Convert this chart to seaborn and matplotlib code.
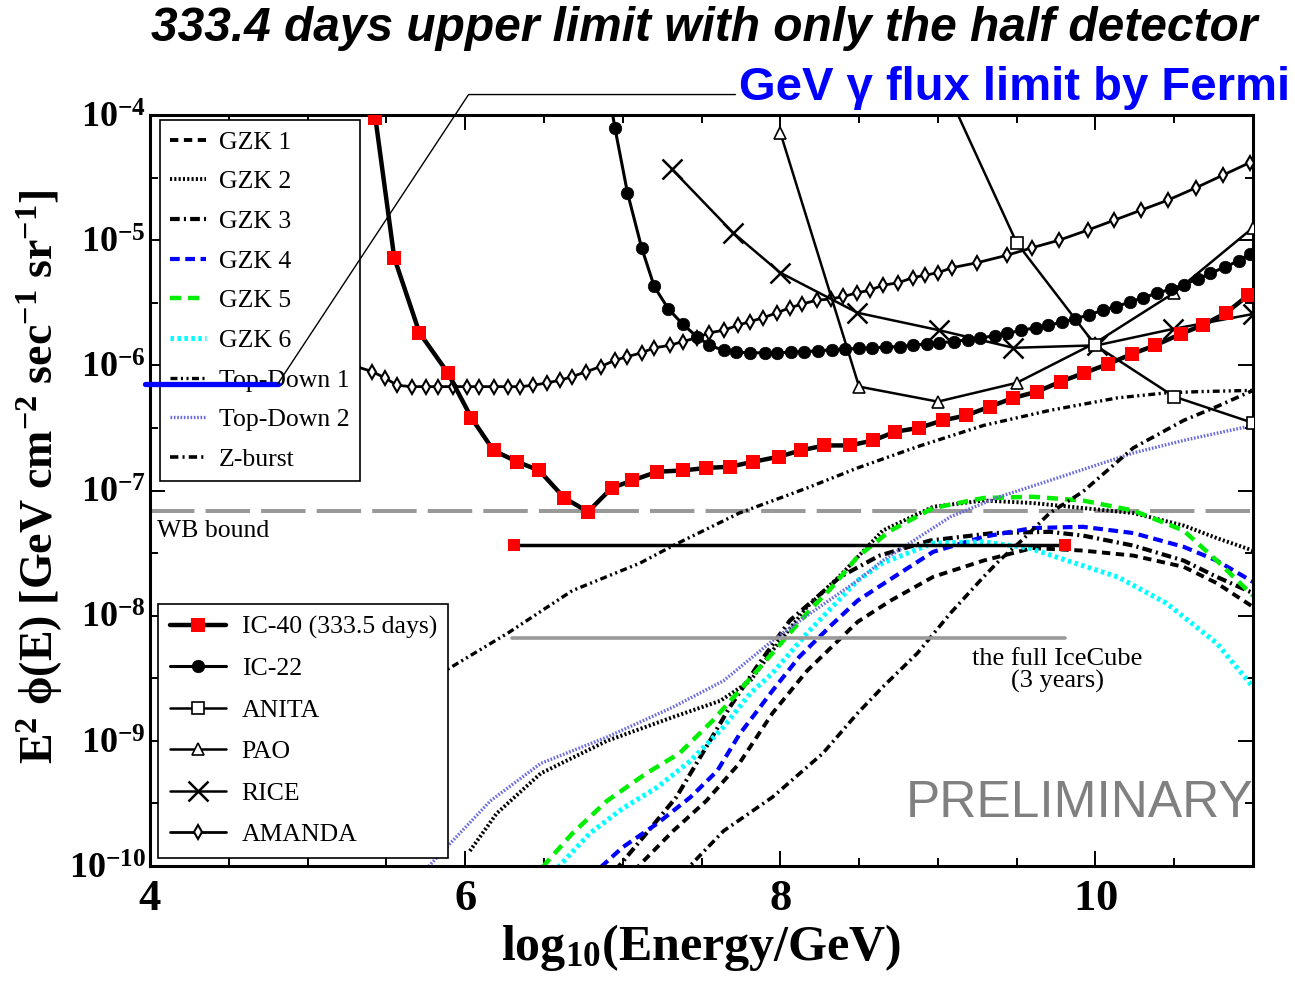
import numpy as np
import pandas as pd
import matplotlib
matplotlib.use("Agg")
import matplotlib.pyplot as plt
import seaborn as sns
from matplotlib.ticker import FixedLocator, MultipleLocator, FuncFormatter, NullFormatter

# ---------------------------------------------------------------------------
# Data: x = log10(E/GeV), values stored as log10 of E^2 * flux
# ---------------------------------------------------------------------------
# Experimental upper limits
ic40_x = [5.40, 5.43, 5.55, 5.71, 5.89, 6.04, 6.18, 6.33, 6.47, 6.63,
          6.78, 6.93, 7.06, 7.22, 7.38, 7.53, 7.68, 7.83, 7.99, 8.13,
          8.28, 8.44, 8.59, 8.73, 8.88, 9.03, 9.18, 9.33, 9.48, 9.63,
          9.78, 9.93, 10.08, 10.23, 10.38, 10.54, 10.68, 10.83, 10.97]
ic40_logy = [-3.60, -4.02, -5.14, -5.74, -6.06, -6.42, -6.68, -6.77, -6.84, -7.06,
             -7.17, -6.98, -6.92, -6.85, -6.84, -6.82, -6.81, -6.77, -6.73, -6.68,
             -6.64, -6.64, -6.60, -6.53, -6.50, -6.44, -6.40, -6.33, -6.26, -6.21,
             -6.13, -6.06, -5.99, -5.91, -5.84, -5.75, -5.68, -5.58, -5.44]

ic40_full_x = [6.31, 9.81]          # IC-40 integrated limit (333.5 days)
ic40_full_logy = [-7.437, -7.437]
icecube3y_x = [6.30, 9.81]          # full IceCube, 3 years sensitivity
icecube3y_logy = [-8.18, -8.18]
wb_logy = -7.166                    # Waxman-Bahcall bound

ic22_x = [6.93, 6.95, 7.03, 7.12, 7.20, 7.29, 7.38, 7.47, 7.55, 7.64,
          7.72, 7.81, 7.90, 7.98, 8.07, 8.15, 8.24, 8.33, 8.41, 8.50,
          8.58, 8.67, 8.76, 8.84, 8.93, 9.01, 9.10, 9.19, 9.27, 9.36,
          9.44, 9.53, 9.62, 9.70, 9.79, 9.87, 9.96, 10.05, 10.13, 10.22,
          10.30, 10.39, 10.48, 10.56, 10.65, 10.73, 10.82, 10.91, 10.98]
ic22_logy = [-3.95, -4.10, -4.62, -5.06, -5.37, -5.55, -5.67, -5.77, -5.84, -5.88,
             -5.895, -5.90, -5.90, -5.90, -5.895, -5.89, -5.885, -5.875, -5.87, -5.865,
             -5.86, -5.855, -5.85, -5.84, -5.83, -5.82, -5.81, -5.795, -5.78, -5.765,
             -5.745, -5.72, -5.70, -5.68, -5.655, -5.63, -5.595, -5.56, -5.53, -5.495,
             -5.46, -5.425, -5.39, -5.355, -5.31, -5.265, -5.215, -5.165, -5.11]

anita_x = [9.0, 9.5, 10.0, 10.5, 11.0]
anita_logy = [-3.65, -5.02, -5.84, -6.25, -6.46]

pao_x = [8.0, 8.5, 9.0, 9.5, 10.0, 10.5, 11.0]
pao_logy = [-4.14, -6.17, -6.29, -6.14, -5.82, -5.42, -4.90]

rice_x = [7.31, 7.70, 8.00, 8.49, 9.01, 9.48, 10.01, 10.49, 11.0]
rice_logy = [-4.43, -4.94, -5.26, -5.58, -5.72, -5.86, -5.84, -5.71, -5.59]

amanda_x = [5.31, 5.41, 5.49, 5.57, 5.66, 5.75, 5.83, 5.92, 6.01, 6.09,
            6.18, 6.27, 6.35, 6.43, 6.52, 6.60, 6.68, 6.77, 6.86, 6.95,
            7.03, 7.12, 7.20, 7.30, 7.38, 7.47, 7.55, 7.64, 7.73, 7.81,
            7.89, 7.98, 8.06, 8.14, 8.23, 8.32, 8.40, 8.49, 8.57, 8.65,
            8.75, 8.84, 8.92, 9.00, 9.09, 9.25, 9.44, 9.60, 9.77, 9.95,
            10.12, 10.29, 10.46, 10.64, 10.81, 10.98]
amanda_logy = [-6.01, -6.05, -6.10, -6.16, -6.17, -6.17, -6.17, -6.17, -6.17, -6.17,
               -6.17, -6.17, -6.17, -6.16, -6.14, -6.12, -6.09, -6.05, -6.01, -5.96,
               -5.93, -5.90, -5.86, -5.84, -5.81, -5.78, -5.74, -5.72, -5.68, -5.65,
               -5.62, -5.58, -5.54, -5.51, -5.48, -5.47, -5.45, -5.42, -5.40, -5.36,
               -5.34, -5.30, -5.28, -5.26, -5.22, -5.18, -5.12, -5.06, -5.00, -4.92,
               -4.84, -4.76, -4.68, -4.58, -4.48, -4.38]

fermi_x = [3.97, 4.81]              # GeV gamma-ray bound from Fermi
fermi_logy = [-6.15, -6.15]

# Model predictions
gzk1_x = [7.07, 7.32, 7.53, 7.74, 7.95, 8.17, 8.49, 8.70, 8.97, 9.29, 9.60, 9.92, 10.24, 10.56, 10.77, 11.0]
gzk1_logy = [-10.04, -9.72, -9.48, -9.18, -8.78, -8.44, -8.05, -7.88, -7.69, -7.56, -7.46, -7.48, -7.52, -7.61, -7.74, -7.93]

gzk2_x = [6.03, 6.20, 6.48, 6.90, 7.32, 7.62, 7.81, 7.95, 8.17, 8.38, 8.65, 8.97, 9.29, 9.60, 9.92, 10.24, 10.56, 10.77, 11.0]
gzk2_logy = [-9.88, -9.58, -9.26, -9.00, -8.81, -8.68, -8.52, -8.28, -7.93, -7.68, -7.32, -7.13, -7.08, -7.10, -7.14, -7.18, -7.28, -7.38, -7.48]

gzk3_x = [6.95, 7.11, 7.34, 7.53, 7.68, 7.85, 8.06, 8.38, 8.63, 8.95, 9.35, 9.71, 9.92, 10.24, 10.56, 10.77, 11.0]
gzk3_logy = [-10.04, -9.80, -9.45, -9.05, -8.73, -8.41, -8.04, -7.69, -7.52, -7.40, -7.34, -7.33, -7.36, -7.44, -7.56, -7.69, -7.82]

gzk4_x = [6.86, 7.00, 7.22, 7.43, 7.60, 7.74, 7.95, 8.12, 8.32, 8.49, 8.71, 8.97, 9.29, 9.60, 9.92, 10.24, 10.56, 10.77, 11.0]
gzk4_logy = [-10.01, -9.85, -9.66, -9.45, -9.24, -8.95, -8.60, -8.33, -8.08, -7.88, -7.70, -7.49, -7.37, -7.30, -7.29, -7.34, -7.45, -7.56, -7.73]

gzk5_x = [6.49, 6.68, 6.90, 7.15, 7.36, 7.57, 7.74, 7.95, 8.17, 8.33, 8.49, 8.70, 8.97, 9.29, 9.60, 9.92, 10.24, 10.56, 10.77, 11.0]
gzk5_logy = [-10.01, -9.74, -9.48, -9.26, -9.10, -8.84, -8.60, -8.30, -7.98, -7.77, -7.53, -7.32, -7.14, -7.06, -7.05, -7.08, -7.16, -7.32, -7.56, -7.84]

gzk6_x = [6.59, 6.79, 7.00, 7.22, 7.43, 7.64, 7.81, 7.95, 8.17, 8.49, 8.65, 8.97, 9.29, 9.58, 9.82, 10.14, 10.45, 10.77, 11.0]
gzk6_logy = [-10.01, -9.74, -9.54, -9.37, -9.16, -8.89, -8.62, -8.46, -8.14, -7.72, -7.58, -7.42, -7.41, -7.46, -7.56, -7.69, -7.90, -8.22, -8.57]

td1_x = [5.80, 5.90, 6.27, 6.68, 7.11, 7.32, 7.74, 8.17, 8.49, 8.87, 9.29, 9.71, 10.14, 10.45, 10.66, 11.0]
td1_logy = [-8.49, -8.42, -8.14, -7.80, -7.58, -7.44, -7.18, -6.98, -6.82, -6.65, -6.48, -6.36, -6.26, -6.22, -6.21, -6.20]

td2_x = [5.71, 6.16, 6.48, 6.90, 7.32, 7.64, 7.95, 8.17, 8.49, 8.65, 9.08, 9.39, 9.71, 10.24, 10.56, 11.0]
td2_logy = [-10.08, -9.48, -9.18, -8.97, -8.73, -8.52, -8.20, -8.00, -7.72, -7.56, -7.21, -7.05, -6.92, -6.70, -6.60, -6.48]

zb_x = [7.38, 7.64, 7.95, 8.27, 8.49, 8.65, 8.87, 9.08, 9.29, 9.39, 9.54, 9.71, 9.92, 10.24, 10.56, 10.77, 11.0]
zb_logy = [-10.06, -9.72, -9.45, -9.10, -8.78, -8.57, -8.30, -7.98, -7.69, -7.56, -7.39, -7.18, -7.01, -6.66, -6.44, -6.33, -6.20]

x_ticks = [4, 6, 8, 10]
y_decades = list(range(-10, -3))

# ---------------------------------------------------------------------------
# Styling
# ---------------------------------------------------------------------------
sns.set_theme(style="ticks")
plt.rcParams["font.family"] = ["Liberation Serif", "DejaVu Serif"]
plt.rcParams["mathtext.fontset"] = "custom"
plt.rcParams["mathtext.rm"] = "Liberation Serif"
plt.rcParams["mathtext.it"] = "Liberation Serif:italic"
plt.rcParams["mathtext.bf"] = "Liberation Serif:bold"
plt.rcParams["lines.scale_dashes"] = False
plt.rcParams["legend.numpoints"] = 1
for key in ("text.color", "axes.labelcolor", "xtick.color", "ytick.color", "axes.edgecolor"):
    plt.rcParams[key] = "black"

fig = plt.figure(figsize=(12.95, 9.86), dpi=100)
ax = fig.add_axes([150 / 1295, 1 - 866 / 986, 1103 / 1295, 751 / 986])
ax.set_yscale("log")
ax.set_xlim(4, 11)
ax.set_ylim(1e-10, 1e-4)


def draw(xs, logys, **kw):
    df = pd.DataFrame({"x": xs, "y": 10.0 ** np.asarray(logys)})
    sns.lineplot(data=df, x="x", y="y", ax=ax, errorbar=None, sort=False, legend=False, **kw)
    return ax.lines[-1]


# Model curves
h_gzk1 = draw(gzk1_x, gzk1_logy, color="black", lw=2.8, linestyle=(0, (6, 4)), label="GZK 1", zorder=2)
h_gzk2 = draw(gzk2_x, gzk2_logy, color="black", lw=2.8, linestyle=(0, (1.5, 1.6)), label="GZK 2", zorder=2)
h_gzk3 = draw(gzk3_x, gzk3_logy, color="black", lw=3.0, linestyle=(0, (7, 3, 1.5, 3)), label="GZK 3", zorder=2)
h_gzk4 = draw(gzk4_x, gzk4_logy, color="#0000ff", lw=3.0, linestyle=(0, (7, 4)), label="GZK 4", zorder=2)
h_gzk5 = draw(gzk5_x, gzk5_logy, color="#00ee00", lw=3.2, linestyle=(0, (8, 5)), label="GZK 5", zorder=2)
h_gzk6 = draw(gzk6_x, gzk6_logy, color="#00ffff", lw=3.6, linestyle=(0, (2.5, 2.5)), label="GZK 6", zorder=2)
h_td1 = draw(td1_x, td1_logy, color="black", lw=2.4, linestyle=(0, (5, 2.5, 1.5, 2.5, 1.5, 2.5)), label="Top-Down 1", zorder=2)
h_td2 = draw(td2_x, td2_logy, color="#6b6bdf", lw=2.4, linestyle=(0, (1.2, 1.2)), label="Top-Down 2", zorder=2)
h_zb = draw(zb_x, zb_logy, color="black", lw=2.6, linestyle=(0, (6, 3, 1.5, 3)), label="Z-burst", zorder=2)

# Reference levels
ax.axhline(10.0 ** wb_logy, color="#999999", lw=2.9, linestyle=(0, (32, 8)), zorder=1.5)
draw(icecube3y_x, icecube3y_logy, color="#999999", lw=2.6, zorder=2.5)

# Limits
h_amanda = draw(amanda_x, amanda_logy, color="black", lw=2.0, marker="d", markersize=7.5,
                markerfacecolor="white", markeredgecolor="black", markeredgewidth=1.5,
                label="AMANDA", zorder=3)
h_rice = draw(rice_x, rice_logy, color="black", lw=1.8, marker="x", markersize=14,
              markeredgecolor="black", markeredgewidth=1.8, label="RICE", zorder=3)
h_pao = draw(pao_x, pao_logy, color="black", lw=1.8, marker="^", markersize=9,
             markerfacecolor="white", markeredgecolor="black", markeredgewidth=1.2,
             label="PAO", zorder=3)
h_anita = draw(anita_x, anita_logy, color="black", lw=1.8, marker="s", markersize=8.5,
               markerfacecolor="white", markeredgecolor="black", markeredgewidth=1.2,
               label="ANITA", zorder=3)
h_ic22 = draw(ic22_x, ic22_logy, color="black", lw=2.2, marker="o", markersize=9,
              markerfacecolor="black", markeredgecolor="black", markeredgewidth=0.5,
              label="IC-22", zorder=3.2)
draw(ic40_full_x, ic40_full_logy, color="black", lw=2.5, marker="s", markersize=9,
     markerfacecolor="#ff0000", markeredgecolor="#ff0000", markeredgewidth=0, zorder=3.4)
h_ic40 = draw(ic40_x, ic40_logy, color="black", lw=3.2, marker="s", markersize=9.5,
              markerfacecolor="#ff0000", markeredgecolor="#ff0000", markeredgewidth=0,
              label="IC-40 (333.5 days)", zorder=3.5)

# ---------------------------------------------------------------------------
# Axes, ticks and labels
# ---------------------------------------------------------------------------
for s in ax.spines.values():
    s.set_visible(True)
    s.set_linewidth(2.2)
    s.set_color("black")

ax.xaxis.set_major_locator(FixedLocator(x_ticks))
ax.xaxis.set_minor_locator(MultipleLocator(0.5))
ax.xaxis.set_major_formatter(FuncFormatter(lambda v, p: r"$\mathbf{%d}$" % round(v)))
ax.yaxis.set_major_locator(FixedLocator([10.0 ** k for k in y_decades]))
ax.yaxis.set_minor_locator(FixedLocator([10.0 ** (k + 0.5) for k in y_decades[:-1]]))
ax.yaxis.set_major_formatter(FuncFormatter(lambda v, p: r"$\mathbf{10^{%d}}$" % round(np.log10(v))))
ax.yaxis.set_minor_formatter(NullFormatter())

ax.tick_params(which="both", direction="in", top=True, right=True, color="black", width=1.4)
ax.tick_params(which="major", length=11)
ax.tick_params(which="minor", length=6)
ax.tick_params(axis="x", which="major", labelsize=32, pad=9, labelcolor="black")
ax.tick_params(axis="y", which="major", labelsize=26, pad=3, labelcolor="black")

ax.set_xlabel(r"$\mathbf{log_{10}(Energy/GeV)}$", fontsize=36, color="black")
ax.xaxis.set_label_coords(0.5, -0.075)
ax.set_ylabel(r"$\mathbf{E^{2}\ \phi(E)\ [GeV\ cm^{-2}\ sec^{-1}\ sr^{-1}]}$", fontsize=33, color="black")
ax.yaxis.set_label_coords(-0.077, 0.518)

# Annotations inside the frame
ax.text(4.045, 10.0 ** -7.32, "WB bound", fontsize=18.5, va="center", ha="left", zorder=4)
ax.text(9.76, 10.0 ** -8.44, "the full IceCube\n(3 years)", fontsize=19, ha="center",
        va="center", linespacing=1.0, zorder=4)
ax.text(9.90, 10.0 ** -9.50, "PRELIMINARY", fontsize=37, color="#808080", ha="center",
        va="center", family="Liberation Sans", zorder=4)

# ---------------------------------------------------------------------------
# Legends
# ---------------------------------------------------------------------------
leg1 = ax.legend(handles=[h_gzk1, h_gzk2, h_gzk3, h_gzk4, h_gzk5, h_gzk6, h_td1, h_td2, h_zb],
                 loc="upper left", bbox_to_anchor=(0.009, 0.993), borderaxespad=0,
                 fontsize=18.5, handlelength=1.4, handletextpad=0.5, labelspacing=0.65,
                 borderpad=0.4, frameon=True, fancybox=False, framealpha=1,
                 edgecolor="black", facecolor="white")
leg1.get_frame().set_linewidth(1.2)
leg1.set_zorder(5)
ax.add_artist(leg1)

leg2 = ax.legend(handles=[h_ic40, h_ic22, h_anita, h_pao, h_rice, h_amanda],
                 loc="lower left", bbox_to_anchor=(0.0073, 0.0107), borderaxespad=0,
                 fontsize=18.5, handlelength=2.2, handletextpad=0.6, labelspacing=0.72,
                 borderpad=0.45, frameon=True, fancybox=False, framealpha=1,
                 edgecolor="black", facecolor="white")
leg2.get_frame().set_linewidth(1.2)
leg2.set_zorder(5)

# Fermi gamma-ray bound drawn over the legend, with its label above the frame
h_fermi = draw(fermi_x, fermi_logy, color="#0000ff", lw=3.8, clip_on=False, zorder=7)
ax.annotate("GeV \u03b3 flux limit by Fermi", xy=(fermi_x[-1], 10.0 ** fermi_logy[-1]),
            xycoords="data", xytext=(0.996, 0.9108), textcoords="figure fraction",
            ha="right", va="center", fontsize=34, fontweight="bold", color="#0000ff",
            family="Liberation Sans", annotation_clip=False, zorder=7,
            arrowprops=dict(arrowstyle="-", color="black", lw=1.0, shrinkA=0, shrinkB=0,
                            relpos=(0, 0.35),
                            connectionstyle="angle,angleA=0,angleB=56.6,rad=0"))

fig.text(0.5436, 0.9716, "333.4 days upper limit with only the half detector",
         ha="center", va="center", fontsize=34.5, fontweight="bold", fontstyle="italic",
         family="Liberation Sans", color="black")

fig.savefig("out.png", dpi=100, facecolor="white")
